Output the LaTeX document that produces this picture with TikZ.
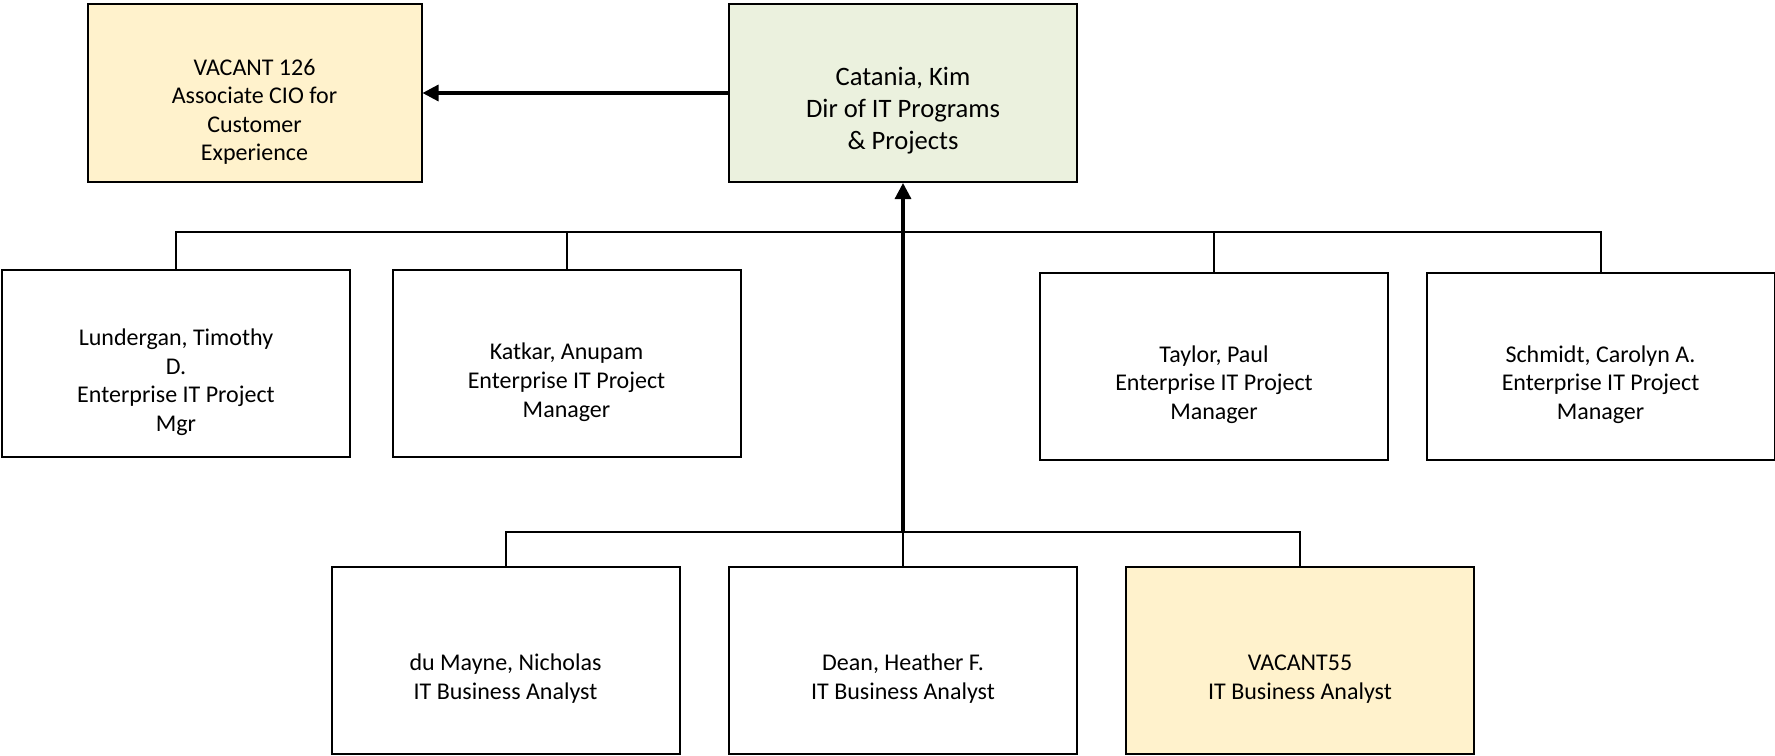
\documentclass[tikz,border=0pt]{standalone}
\usepackage{fontspec}
\setmainfont{Carlito}
\usetikzlibrary{positioning, calc, arrows.meta}
\definecolor{colorVacant}{RGB}{255, 242, 204}
\definecolor{colorHead}{RGB}{235, 241, 222}
\tikzstyle{person} = [rectangle, minimum width=174pt, minimum height=93.5pt, inner sep=0pt, text width=160pt, align=flush center, draw=black, line width=1pt, font=\fontsize{12}{14.3}\selectfont, execute at begin node={\rule{0pt}{27pt}}]
\tikzstyle{vacant} = [person, fill=colorVacant]
\tikzstyle{head} = [person, minimum height=89pt, fill=colorHead, font=\fontsize{13.3}{15.9}\selectfont]
\tikzstyle{link} = [line width=1pt]
\tikzstyle{arrow} = [line width=1.6pt, -{Triangle[width=8pt, length=8pt]}]

\begin{document}
\begin{tikzpicture}[x=0.5pt, y=-0.5pt]

		\useasboundingbox (0,0) rectangle (1775,755);

		% top row
		\node (catania)[head] at (903,93) {Catania, Kim \\ Dir of IT Programs \\ \& Projects};
		\node (vacant126)[vacant, minimum width=167pt, minimum height=89pt] at (254.5,93) {VACANT 126 \\ Associate CIO for \\ Customer \\ Experience};

		% project managers
		\node (lundergan)[person] at (176,363.5) {Lundergan, Timothy \\ D. \\ Enterprise IT Project \\ Mgr};
		\node (katkar)[person] at (566.5,363.5) {Katkar, Anupam \\ Enterprise IT Project \\ Manager};
		\node (taylor)[person] at (1214,366) {Taylor, Paul \\ Enterprise IT Project \\ Manager};
		\node (schmidt)[person] at (1600.5,366) {Schmidt, Carolyn A. \\ Enterprise IT Project \\ Manager};

		% business analysts
		\node (dumayne)[person] at (505.5,660) {du Mayne, Nicholas \\ IT Business Analyst};
		\node (dean)[person] at (903,660) {Dean, Heather F. \\ IT Business Analyst};
		\node (vacant55)[vacant] at (1300,660) {VACANT55 \\ IT Business Analyst};

		% bus lines
		\coordinate (busPM) at (903,232);
		\coordinate (busBA) at (903,532);

		% lines and arrows
		\draw[arrow](catania) -- (vacant126);

		\draw[link](lundergan.north) |- (busPM) -| (schmidt.north);
		\draw[link](katkar.north) -- (katkar.north |- busPM);
		\draw[link](taylor.north) -- (taylor.north |- busPM);

		\draw[link](dumayne.north) |- (busBA) -| (vacant55.north);
		\draw[link](dean.north) -- (busBA);

		\draw[arrow](busBA) -- (catania.south);

	\end{tikzpicture}
\end{document}
